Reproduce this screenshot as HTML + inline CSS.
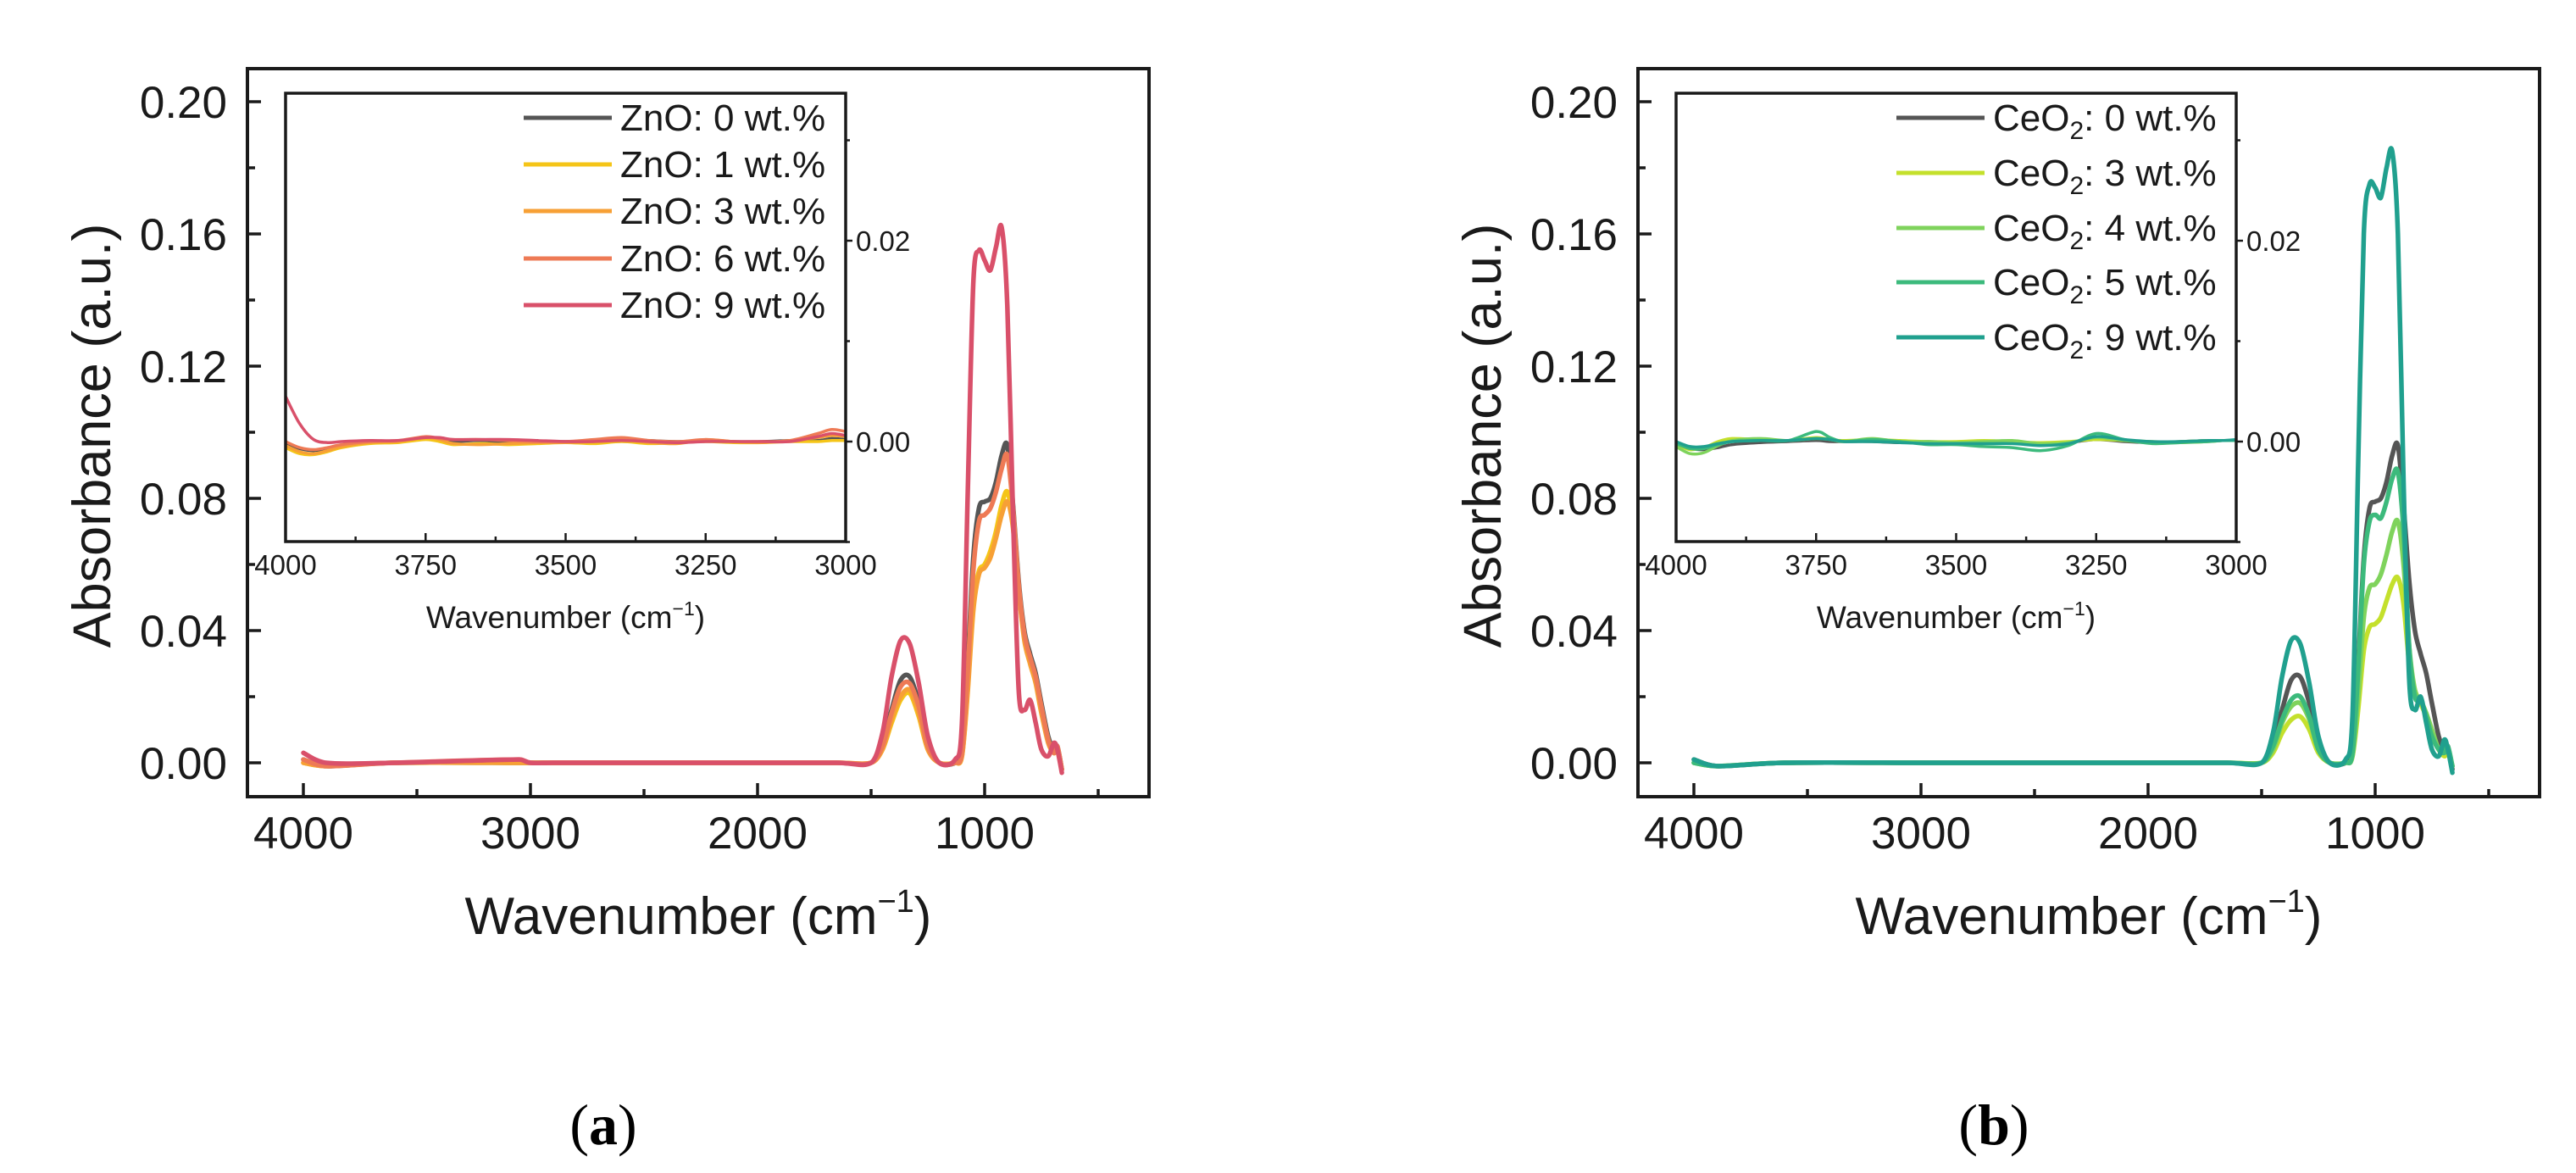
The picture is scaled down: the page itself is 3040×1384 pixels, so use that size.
<!DOCTYPE html>
<html><head><meta charset="utf-8">
<style>
html,body{margin:0;padding:0;background:#fff;}
svg{display:block;font-family:"Liberation Sans",Arial,sans-serif;}
</style></head>
<body>
<svg id="fig" width="3040" height="1384" viewBox="0 0 3040 1384" xmlns="http://www.w3.org/2000/svg"></svg>
<script>
// ---- main spectrum data ----
const mainWavenumbers = [4000,3900,3600,3050,3000,2900,2000,1650,1500,1450,1410,1370,1330,1290,1250,1200,1130,1100,1075,1050,1025,1000,975,950,925,900,875,850,825,800,775,750,720,695,680,660];
const znoLabels = ["ZnO: 0 wt.%","ZnO: 1 wt.%","ZnO: 3 wt.%","ZnO: 6 wt.%","ZnO: 9 wt.%"];
const znoColors = ["#555555","#f5c518","#f7a035","#ee7a55","#d9506a"];
const zno0 = [0.001,-0.001,0.000,0.000,0.000,0.000,0.000,0.000,0.000,0.006,0.016,0.025,0.026,0.018,0.006,0.000,0.000,0.004,0.030,0.062,0.077,0.079,0.080,0.085,0.093,0.096,0.078,0.055,0.040,0.033,0.027,0.018,0.008,0.004,0.005,-0.002];
const zno1 = [0.000,-0.001,0.000,0.000,0.000,0.000,0.000,0.000,0.000,0.004,0.012,0.019,0.021,0.014,0.004,0.000,0.000,0.002,0.022,0.048,0.058,0.060,0.064,0.070,0.078,0.082,0.072,0.052,0.038,0.031,0.025,0.016,0.007,0.003,0.004,-0.002];
const zno3 = [0.000,-0.001,0.000,0.000,0.000,0.000,0.000,0.000,0.000,0.004,0.013,0.020,0.022,0.015,0.004,0.000,0.000,0.002,0.021,0.046,0.057,0.059,0.062,0.068,0.075,0.079,0.071,0.052,0.037,0.030,0.024,0.015,0.006,0.003,0.004,-0.002];
const zno6 = [0.001,-0.001,0.000,0.001,0.000,0.000,0.000,0.000,0.000,0.005,0.015,0.023,0.024,0.017,0.005,0.000,0.000,0.003,0.027,0.058,0.073,0.075,0.077,0.082,0.089,0.093,0.077,0.054,0.039,0.032,0.026,0.017,0.007,0.003,0.005,-0.002];
const zno9 = [0.003,0.000,0.000,0.001,0.000,0.000,0.000,0.000,0.000,0.009,0.026,0.037,0.036,0.024,0.008,0.000,0.001,0.012,0.080,0.145,0.155,0.152,0.149,0.156,0.162,0.138,0.075,0.022,0.016,0.019,0.012,0.004,0.002,0.006,0.004,-0.003];
const ceoLabels = ["0 wt.%","3 wt.%","4 wt.%","5 wt.%","9 wt.%"];
const ceoColors = ["#555555","#c4e02c","#7fd35c","#3cba7c","#20a08e"];
const ceo0 = zno0;
const ceo3 = [0.000,-0.001,0.000,0.000,0.000,0.000,0.000,0.000,0.000,0.003,0.009,0.013,0.014,0.010,0.003,0.000,0.000,0.002,0.016,0.034,0.041,0.042,0.044,0.049,0.054,0.056,0.048,0.030,0.022,0.018,0.014,0.009,0.004,0.002,0.003,-0.001];
const ceo4 = [0.000,-0.001,0.000,0.000,0.000,0.000,0.000,0.000,0.000,0.004,0.012,0.017,0.018,0.013,0.004,0.000,0.000,0.002,0.020,0.044,0.053,0.054,0.057,0.063,0.070,0.073,0.060,0.035,0.022,0.019,0.015,0.010,0.004,0.003,0.004,-0.001];
const ceo5 = [0.000,-0.001,0.000,0.000,0.000,0.000,0.000,0.000,0.000,0.005,0.013,0.019,0.020,0.014,0.004,0.000,0.000,0.003,0.028,0.060,0.073,0.075,0.074,0.079,0.086,0.088,0.070,0.035,0.020,0.019,0.014,0.008,0.004,0.003,0.005,-0.001];
const ceo9 = [0.001,-0.001,0.000,0.000,0.000,0.000,0.000,0.000,0.000,0.009,0.026,0.037,0.036,0.024,0.008,0.000,0.001,0.014,0.090,0.160,0.175,0.174,0.171,0.180,0.185,0.160,0.085,0.025,0.016,0.020,0.012,0.004,0.002,0.007,0.004,-0.003];
// ---- inset data ----
const insetWavenumbers = [4000,3975,3950,3925,3900,3850,3800,3750,3725,3700,3650,3600,3550,3500,3450,3400,3350,3300,3250,3200,3150,3100,3050,3025,3000];
const iZno0 = [-0.0002,-0.0007,-0.0009,-0.0007,-0.0004,-0.0001,0.0000,0.0003,0.0001,0.0000,0.0001,-0.0001,0.0000,0.0000,0.0001,0.0003,0.0001,0.0000,0.0001,0.0000,0.0000,0.0001,0.0001,0.0003,0.0002];
const iZno1 = [-0.0006,-0.0012,-0.0013,-0.0010,-0.0006,-0.0002,-0.0001,0.0002,0.0000,-0.0003,-0.0002,-0.0003,-0.0002,-0.0001,-0.0002,0.0000,-0.0002,-0.0001,0.0000,-0.0001,-0.0001,0.0000,0.0000,0.0001,0.0001];
const iZno3 = [-0.0004,-0.0010,-0.0012,-0.0009,-0.0005,-0.0001,0.0000,0.0004,0.0002,-0.0002,-0.0003,-0.0002,-0.0001,-0.0001,0.0000,0.0002,-0.0001,-0.0002,0.0002,0.0000,-0.0001,0.0001,0.0004,0.0006,0.0005];
const iZno6 = [0.0000,-0.0006,-0.0008,-0.0006,-0.0003,0.0000,0.0001,0.0005,0.0003,0.0002,0.0002,0.0001,0.0000,0.0000,0.0002,0.0004,0.0001,0.0000,0.0002,0.0000,0.0000,0.0001,0.0008,0.0012,0.0010];
const iZno9 = [0.0045,0.0018,0.0002,-0.0001,0.0000,0.0001,0.0001,0.0004,0.0004,0.0002,0.0002,0.0002,0.0001,0.0000,0.0000,0.0001,0.0000,-0.0001,0.0000,0.0000,0.0000,0.0000,0.0005,0.0008,0.0006];
const iCeo0 = [-0.0002,-0.0007,-0.0008,-0.0006,-0.0003,-0.0001,0.0000,0.0001,0.0000,0.0000,0.0000,-0.0001,0.0000,-0.0001,-0.0001,0.0000,-0.0002,-0.0001,0.0002,0.0000,-0.0001,0.0000,0.0001,0.0001,0.0001];
const iCeo3 = [-0.0003,-0.0008,-0.0006,0.0000,0.0003,0.0002,0.0001,0.0004,0.0002,0.0001,0.0002,0.0001,0.0000,0.0000,0.0001,0.0000,-0.0001,0.0000,0.0002,0.0001,0.0000,-0.0001,0.0000,0.0001,0.0001];
const iCeo4 = [-0.0005,-0.0012,-0.0011,-0.0004,0.0001,0.0003,0.0001,0.0003,0.0002,0.0000,0.0003,0.0000,0.0000,-0.0001,0.0000,0.0001,-0.0002,-0.0001,0.0004,0.0001,-0.0001,0.0000,0.0001,0.0001,0.0001];
const iCeo5 = [-0.0002,-0.0007,-0.0007,-0.0003,0.0000,0.0001,0.0001,0.0010,0.0004,0.0000,0.0002,0.0000,-0.0003,-0.0003,-0.0005,-0.0006,-0.0009,-0.0004,0.0008,0.0002,-0.0002,-0.0001,0.0000,0.0001,0.0001];
const iCeo9 = [0.0000,-0.0005,-0.0005,-0.0002,0.0000,0.0001,0.0001,0.0003,0.0002,0.0000,0.0000,-0.0001,-0.0002,-0.0002,-0.0002,-0.0002,-0.0004,-0.0002,0.0005,0.0002,0.0000,0.0000,0.0001,0.0001,0.0002];
const mainYTicks = [0.00,0.04,0.08,0.12,0.16,0.20];
const mainXTicks = [4000,3000,2000,1000];
const insetXTicks = [4000,3750,3500,3250,3000];
const insetYTicks = [0.00,0.02];

const NS = "http://www.w3.org/2000/svg";
const svg = document.getElementById("fig");
function el(tag, attrs, parent){
  const e = document.createElementNS(NS, tag);
  for (const k in attrs) e.setAttribute(k, attrs[k]);
  (parent||svg).appendChild(e);
  return e;
}
function smoothPath(pts){
  let d = "M" + pts[0][0].toFixed(1) + "," + pts[0][1].toFixed(1);
  for (let i=0;i<pts.length-1;i++){
    const p0 = pts[i-1]||pts[i], p1 = pts[i], p2 = pts[i+1], p3 = pts[i+2]||p2;
    const t = 0.16;
    const seg = p2[0]-p1[0];
    let c1x = p1[0]+(p2[0]-p0[0])*t, c1y = p1[1]+(p2[1]-p0[1])*t;
    let c2x = p2[0]-(p3[0]-p1[0])*t, c2y = p2[1]-(p3[1]-p1[1])*t;
    // clamp control points to segment to avoid overshoot
    const lim = Math.abs(seg)*0.45;
    if (Math.abs(c1x-p1[0])>lim){ const s=lim/Math.abs(c1x-p1[0]); c1x=p1[0]+(c1x-p1[0])*s; c1y=p1[1]+(c1y-p1[1])*s; }
    if (Math.abs(c2x-p2[0])>lim){ const s=lim/Math.abs(c2x-p2[0]); c2x=p2[0]+(c2x-p2[0])*s; c2y=p2[1]+(c2y-p2[1])*s; }
    d += " C"+c1x.toFixed(1)+","+c1y.toFixed(1)+" "+c2x.toFixed(1)+","+c2y.toFixed(1)+" "+p2[0].toFixed(1)+","+p2[1].toFixed(1);
  }
  return d;
}

function panel(ox, series, labels, colors, insetSeries, isCe, letter){
  const g = el("g", {});
  
  
  const L = ox, T = 81, R = ox + 1064, B = 940;
  const xs = v => L + 66 + (4000 - v) * 0.268;
  const ys = v => 900 - v * 3900;
  series.forEach((arr, si) => {
    const pts = mainWavenumbers.map((w,i)=>[xs(w), ys(arr[i])]);
    const p = el("path", {d: smoothPath(pts), fill:"none", stroke:colors[si], "stroke-width":5.5, "stroke-linejoin":"round", "stroke-linecap":"round"}, g);
    
    
  });
  const fr = el("rect", {x:L, y:T, width:R-L, height:B-T, fill:"none", stroke:"#1a1a1a", "stroke-width":4}, g);
  
  
  for (let v=0; v<=0.2001; v+=0.02){
    const y = ys(v), major = Math.round(v*100)%4===0;
    el("line", {x1:L, x2:L+(major?16:9), y1:y, y2:y, stroke:"#1a1a1a", "stroke-width":3.5}, g);
  }
  mainYTicks.forEach(v=>{
    const t = el("text", {x:L-24, y:ys(v)+19, "text-anchor":"end", "font-size":53, fill:"#1a1a1a"}, g);
    t.textContent = v.toFixed(2);
    
    
  });
  [4000,3500,3000,2500,2000,1500,1000,500].forEach(v=>{
    const x = xs(v), major = v%1000===0;
    el("line", {x1:x, x2:x, y1:B, y2:B-(major?16:9), stroke:"#1a1a1a", "stroke-width":3.5}, g);
  });
  mainXTicks.forEach(v=>{
    const t = el("text", {x:xs(v), y:1001, "text-anchor":"middle", "font-size":53, fill:"#1a1a1a"}, g);
    t.textContent = v;
    
    
  });
  const xt = el("text", {x:L+532, y:1102, "text-anchor":"middle", "font-size":62, fill:"#1a1a1a"}, g);
  xt.innerHTML = 'Wavenumber (cm<tspan font-size="38" dy="-26">\u22121</tspan><tspan dy="26">)</tspan>';
  
  
  const yt = el("text", {x:0, y:0, "text-anchor":"middle", "font-size":63, fill:"#1a1a1a", transform:"translate("+(L-162)+",514) rotate(-90)"}, g);
  yt.textContent = "Absorbance (a.u.)";
  
  

  const IL = L+45, IR = L+706, IT = 110, IB = 639;
  const ix = v => IL + (4000 - v) * (IR-IL)/1000;
  const iy = v => 521 - v * 11850;
  const ig = el("g", {}, g);
  
  
  el("rect", {x:IL, y:IT, width:IR-IL, height:IB-IT, fill:"#fff", stroke:"none"}, ig);
  insetSeries.forEach((arr, si) => {
    const pts = insetWavenumbers.map((w,i)=>[ix(w), iy(arr[i])]);
    const p = el("path", {d: smoothPath(pts), fill:"none", stroke:colors[si], "stroke-width":3.5, "stroke-linejoin":"round"}, ig);
    
    
  });
  el("rect", {x:IL, y:IT, width:IR-IL, height:IB-IT, fill:"none", stroke:"#1a1a1a", "stroke-width":3.5}, ig);
  for (let v=4000; v>=3000; v-=125){
    const major = v%250===0;
    el("line", {x1:ix(v), x2:ix(v), y1:IB, y2:IB-(major?10:6), stroke:"#1a1a1a", "stroke-width":2.5}, ig);
  }
  insetXTicks.forEach(v=>{
    const t = el("text", {x:ix(v), y:IB+39, "text-anchor":"middle", "font-size":33, fill:"#1a1a1a"}, ig);
    t.textContent = v;
    
    
  });
  [-0.01,0,0.01,0.02,0.03].forEach(v=>{
    const major = Math.abs(Math.round(v*100))%2===0;
    el("line", {x1:IR, x2:IR+(major?8:5), y1:iy(v), y2:iy(v), stroke:"#1a1a1a", "stroke-width":2.5}, ig);
  });
  insetYTicks.forEach(v=>{
    const t = el("text", {x:IR+12, y:iy(v)+12, "font-size":33, fill:"#1a1a1a"}, ig);
    t.textContent = v.toFixed(2);
    
    
  });
  const ixt = el("text", {x:(IL+IR)/2, y:741, "text-anchor":"middle", "font-size":37, fill:"#1a1a1a"}, ig);
  ixt.innerHTML = 'Wavenumber (cm<tspan font-size="23" dy="-15">\u22121</tspan><tspan dy="15">)</tspan>';
  
  
  const lg = el("g", {}, ig);
  
  
  const rowY = isCe ? [139,204,269,333,398] : [139,194,249,305,360];
  labels.forEach((lab, si)=>{
    const y = rowY[si];
    const e = el("g", {}, lg);
    
    
    const lx = isCe ? L+305 : L+326;
    el("line", {x1:lx, x2:lx+104, y1:y, y2:y, stroke:colors[si], "stroke-width":5}, e);
    const t = el("text", {x:lx+114, y:y+15, "font-size":44, fill:"#1a1a1a"}, e);
    if (isCe) t.innerHTML = 'CeO<tspan font-size="30" dy="10">2</tspan><tspan dy="-10">: ' + lab + '</tspan>';
    else t.textContent = lab;
  });
  const pl = el("text", {x:L+420, y:1350, "text-anchor":"middle", "font-size":68, fill:"#000", "font-family":"'Liberation Serif',serif"}, g);
  pl.innerHTML = '(<tspan font-weight="bold">' + letter + '</tspan>)';
  
  
}

panel(292, [zno0,zno1,zno3,zno6,zno9], znoLabels, znoColors, [iZno0,iZno1,iZno3,iZno6,iZno9], false, "a");
panel(1933, [ceo0,ceo3,ceo4,ceo5,ceo9], ceoLabels, ceoColors, [iCeo0,iCeo3,iCeo4,iCeo5,iCeo9], true, "b");
</script>
</body></html>
